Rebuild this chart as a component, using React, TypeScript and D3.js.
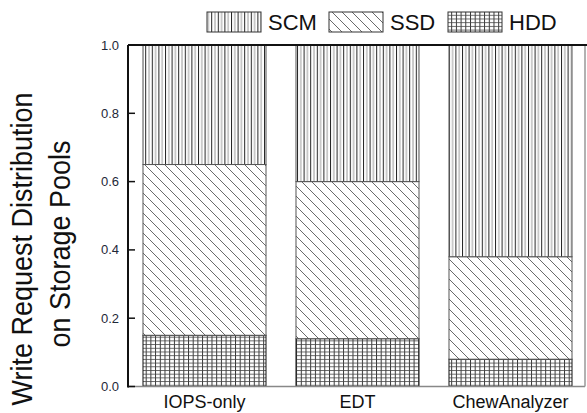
import * as d3 from 'd3'

const categories = ['IOPS-only', 'EDT', 'ChewAnalyzer']
const tiers = ['HDD', 'SSD', 'SCM']
const legendOrder = ['SCM', 'SSD', 'HDD']
const hddShare = [0.15, 0.14, 0.08]
const ssdShare = [0.5, 0.46, 0.3]
const scmShare = [0.35, 0.4, 0.62]
const yTicks = [0, 0.2, 0.4, 0.6, 0.8, 1.0]

const font = "Arial, 'Liberation Sans', sans-serif"

export default function App() {
  const width = 587
  const height = 413
  const left = 128, right = 585, top = 45, bottom = 386.5

  const rows = categories.map((c, i) => ({
    cat: c,
    HDD: hddShare[i],
    SSD: ssdShare[i],
    SCM: scmShare[i],
  }))
  const series = d3.stack<any>().keys(tiers)(rows)

  const x = d3.scaleBand().domain(categories).range([left, 587]).paddingInner(0.196).paddingOuter(0.098)
  const y = d3.scaleLinear().domain([0, 1]).range([bottom, top])

  const fillFor: Record<string, string> = {
    SCM: 'url(#pScm)',
    SSD: 'url(#pSsd)',
    HDD: 'url(#pHdd)',
  }

  // legend boxes are laid out left to right
  const legendX = [207, 329, 448]

  return (
    <svg width={width} height={height} style={{ position: 'absolute', left: 0, top: 0, background: '#fff' }}>
      <defs>
        <pattern id="pScm" patternUnits="userSpaceOnUse" width="6.6" height="10">
          <rect width="6.6" height="10" fill="#fff" />
          <line x1="0.5" y1="0" x2="0.5" y2="10" stroke="#222" strokeWidth="1" />
          <line x1="3.8" y1="0" x2="3.8" y2="10" stroke="#999" strokeWidth="1" />
        </pattern>
        <pattern id="pSsd" patternUnits="userSpaceOnUse" width="10" height="10">
          <rect width="10" height="10" fill="#fff" />
          <path d="M0,0 L10,10 M-5,5 L5,15 M5,-5 L15,5" stroke="#444" strokeWidth="0.8" />
        </pattern>
        <pattern id="pHdd" patternUnits="userSpaceOnUse" width="4.7" height="3.7">
          <rect width="4.7" height="3.7" fill="#fff" />
          <line x1="0.5" y1="0" x2="0.5" y2="3.7" stroke="#222" strokeWidth="0.9" />
          <line x1="0" y1="0.5" x2="4.7" y2="0.5" stroke="#444" strokeWidth="0.8" />
        </pattern>
      </defs>

      {/* bars */}
      {series.map((s) => (
        <g key={s.key}>
          {s.map((d, i) => (
            <rect
              key={i}
              x={x(categories[i])!}
              y={y(d[1])}
              width={x.bandwidth()}
              height={y(d[0]) - y(d[1])}
              fill={fillFor[s.key]}
              stroke={s.key === 'HDD' ? '#111' : '#555'}
              strokeWidth={1}
            />
          ))}
        </g>
      ))}

      {/* frame */}
      <line x1={left} x2={right} y1={bottom} y2={bottom} stroke="#888" strokeWidth={1.5} />
      <line x1={right} x2={right} y1={top} y2={bottom} stroke="#999" strokeWidth={1.5} />
      <line x1={left} x2={587} y1={top} y2={top} stroke="#111" strokeWidth={2} />
      <line x1={left} x2={left} y1={top} y2={bottom + 1} stroke="#111" strokeWidth={2} />

      {/* y ticks */}
      {yTicks.map((t) => (
        <g key={t}>
          <line x1={left} x2={left + 7} y1={y(t)} y2={y(t)} stroke="#111" strokeWidth={1.5} />
          <text x={119} y={y(t)} dy="0.35em" textAnchor="end" fontSize={13} fontFamily={font} fill="#1e2838">
            {t.toFixed(1)}
          </text>
        </g>
      ))}

      {/* x labels */}
      {categories.map((c) => (
        <text key={c} x={x(c)! + x.bandwidth() / 2} y={408} textAnchor="middle" fontSize={18} fontFamily={font} fill="#111">
          {c}
        </text>
      ))}

      {/* y title */}
      <g transform="translate(32,249) scale(1.12,1) rotate(-90)">
        <text textAnchor="middle" fontSize={27} fontFamily={font} fill="#111">Write Request Distribution</text>
      </g>
      <g transform="translate(70,244) scale(1.12,1) rotate(-90)">
        <text textAnchor="middle" fontSize={27} fontFamily={font} fill="#111">on Storage Pools</text>
      </g>

      {/* legend */}
      {legendOrder.map((k, i) => (
        <g key={k}>
          <rect x={legendX[i]} y={12} width={54} height={20} fill={fillFor[k]} stroke="#333" strokeWidth={1} />
          <text x={legendX[i] + 61} y={30} fontSize={22} fontFamily={font} fill="#111">{k}</text>
        </g>
      ))}
    </svg>
  )
}
